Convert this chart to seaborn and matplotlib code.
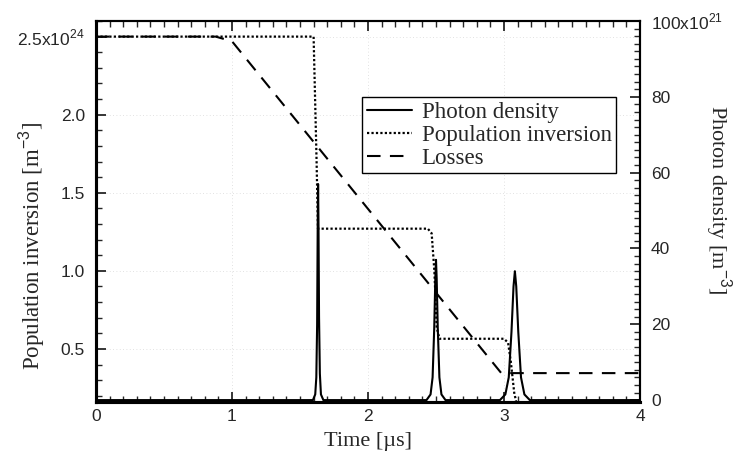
import matplotlib
matplotlib.use("Agg")
import matplotlib.pyplot as plt
import seaborn as sns
import pandas as pd
from matplotlib.ticker import MultipleLocator, FixedLocator, FixedFormatter

# ---------------- data ----------------
# Population inversion [1e24 m^-3] vs time [us]
inv_t = [0.0, 1.600, 1.622, 1.632, 2.440, 2.468, 2.488, 2.505, 2.525, 3.000, 3.030, 3.050, 3.075, 3.105, 4.0]
inv_v = [2.50, 2.50, 1.70, 1.27, 1.27, 1.24, 1.00, 0.64, 0.565, 0.565, 0.54, 0.42, 0.22, 0.10, 0.10]

# Losses (threshold) [1e24 m^-3]
loss_t = [0.0, 0.88, 1.00, 2.98, 4.0]
loss_v = [2.50, 2.50, 2.47, 0.345, 0.345]

# Photon density [1e21 m^-3]
photon_t = [0.0,
            1.595, 1.612, 1.620, 1.626, 1.630, 1.633, 1.636, 1.640, 1.646, 1.654, 1.672,
            2.430, 2.460, 2.475, 2.487, 2.495, 2.500, 2.505, 2.513, 2.525, 2.540, 2.570,
            2.970, 3.010, 3.035, 3.055, 3.070, 3.080, 3.090, 3.105, 3.125, 3.150, 3.190,
            4.0]
photon_v = [0.0,
            0.0, 1.5, 6.0, 20.0, 45.0, 57.0, 46.0, 22.0, 7.0, 1.5, 0.0,
            0.0, 1.5, 6.0, 19.0, 32.0, 37.0, 32.0, 19.0, 6.0, 1.5, 0.0,
            0.0, 1.5, 6.0, 18.0, 30.0, 34.0, 30.0, 18.0, 6.0, 1.5, 0.0,
            0.0]

left_ticks = [0.5, 1.0, 1.5, 2.0, 2.5]
left_labels = ["0.5", "1.0", "1.5", "2.0", "2.5x10$^{24}$"]
right_ticks = [0, 20, 40, 60, 80, 100]
right_labels = ["0", "20", "40", "60", "80", "100x10$^{21}$"]
x_ticks = [0, 1, 2, 3, 4]

# ---------------- style ----------------
sns.set_style("ticks")
plt.rcParams['font.family'] = ['Liberation Serif', 'DejaVu Serif']
plt.rcParams['mathtext.fontset'] = 'custom'
plt.rcParams['mathtext.rm'] = 'Liberation Sans'

fig = plt.figure(figsize=(7.36, 4.61), dpi=100)
ax = fig.add_axes([96/736, 1-402/461, 544/736, 381/461])
ax2 = ax.twinx()

inv_df = pd.DataFrame({"t": inv_t, "v": inv_v})
loss_df = pd.DataFrame({"t": loss_t, "v": loss_v})
ph_df = pd.DataFrame({"t": photon_t, "v": photon_v})

sns.lineplot(data=inv_df, x="t", y="v", ax=ax, color="black", lw=1.6,
             linestyle=(0, (1, 1)), sort=False, estimator=None, label="Population inversion")
sns.lineplot(data=loss_df, x="t", y="v", ax=ax, color="black", lw=1.5,
             linestyle=(0, (6.5, 4.5)), sort=False, estimator=None, label="Losses")
sns.lineplot(data=ph_df, x="t", y="v", ax=ax2, color="black", lw=1.5,
             linestyle="-", sort=False, estimator=None, label="Photon density")

for a in (ax, ax2):
    lg = a.get_legend()
    if lg is not None:
        lg.remove()

ax.set_xlim(0, 4)
ax.set_ylim(0.16, 2.60)
ax2.set_ylim(-0.5, 100)

# grid (very faint)
ax.grid(True, which="major", color="#d8d8d8", linestyle=(0, (1, 3)), lw=0.6)
ax.set_axisbelow(True)

# ticks
ax.xaxis.set_major_locator(FixedLocator(x_ticks))
ax.xaxis.set_minor_locator(MultipleLocator(0.1))
ax.yaxis.set_major_locator(FixedLocator(left_ticks))
ax.yaxis.set_major_formatter(FixedFormatter(left_labels))
ax.yaxis.set_minor_locator(MultipleLocator(0.1))
ax2.yaxis.set_major_locator(FixedLocator(right_ticks))
ax2.yaxis.set_major_formatter(FixedFormatter(right_labels))
ax2.yaxis.set_minor_locator(MultipleLocator(2))

ax.tick_params(axis="x", which="both", direction="in", top=True, bottom=True)
ax.tick_params(axis="y", which="both", direction="in", left=True, right=False)
ax2.tick_params(axis="y", which="both", direction="in", right=True, left=False)
for a in (ax, ax2):
    a.tick_params(which="major", length=7, width=1.3, labelsize=12.5, pad=8)
    a.tick_params(which="minor", length=4, width=1.0)
ax.tick_params(axis="x", which="major", pad=5)
for lab in ax.get_xticklabels() + ax.get_yticklabels() + ax2.get_yticklabels():
    lab.set_fontfamily(['Liberation Sans', 'DejaVu Sans'])

for s in ("bottom", "left"):
    ax.spines[s].set_linewidth(2.2)
for s in ("top", "right"):
    ax.spines[s].set_linewidth(1.5)
    ax2.spines[s].set_linewidth(1.5)
ax2.spines["bottom"].set_linewidth(2.2)
ax2.spines["left"].set_linewidth(2.2)
for a in (ax, ax2):
    for s in a.spines.values():
        s.set_color("black")

ax.set_xlabel("Time [\u00b5s]", fontsize=16)
ax.xaxis.set_label_coords(0.5, -0.08)
ax.set_ylabel("Population inversion [m$^{-3}$]", fontsize=16.5, va="center")
ax.yaxis.set_label_coords(-0.118, 0.41)
ax2.set_ylabel("Photon density [m$^{-3}$]", fontsize=16, rotation=270, va="center")
ax2.yaxis.set_label_coords(1.145, 0.53)

# legend
h1, l1 = ax.get_legend_handles_labels()
h2, l2 = ax2.get_legend_handles_labels()
handles = h2 + h1
labels = l2 + l1
leg = ax2.legend(handles, labels, loc="upper left", bbox_to_anchor=(0.489, 0.80),
                 frameon=True, fancybox=False, edgecolor="black", framealpha=1,
                 fontsize=16.5, handlelength=2.0, handletextpad=0.4,
                 borderpad=0.2, labelspacing=0.08, borderaxespad=0)
leg.get_frame().set_linewidth(1.0)

fig.savefig("out.png", dpi=100)
